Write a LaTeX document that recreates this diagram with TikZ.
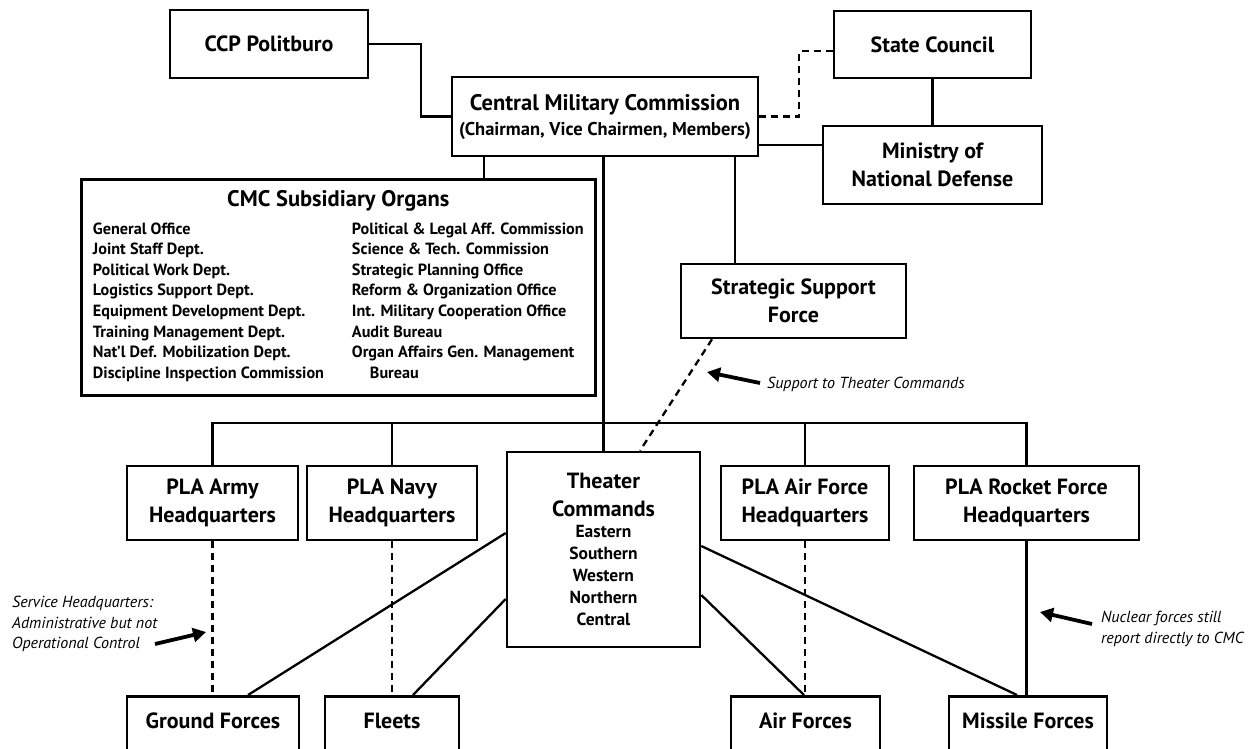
\documentclass[tikz,border=0pt]{standalone}
\usepackage{fontspec}
\setmainfont{PT Sans}
\usetikzlibrary{arrows.meta}
\tikzset{
  box/.style={draw, line width=2.6pt, inner sep=0pt, align=center,
    font=\bfseries\fontsize{22}{28}\selectfont},
  conn/.style={line width=2.3pt},
  dconn/.style={line width=2.3pt, dash pattern=on 7pt off 5pt},
  note/.style={font=\itshape\fontsize{16}{20.5}\selectfont, align=left, inner sep=0pt},
  callout/.style={line width=3.8pt, -{Triangle[length=13pt,width=14pt]}},
  lbl/.style={anchor=center, yshift=-26pt, inner sep=0pt, font=\bfseries\fontsize{22}{28}\selectfont},
}
\begin{document}
\begin{tikzpicture}[x=1pt,y=-1pt]
\useasboundingbox (0,0) rectangle (1249,748);
% top boxes
\node[box, minimum width=198pt, minimum height=68pt] (ccp) at (269,44) {CCP Politburo};
\node[box, minimum width=306pt, minimum height=79pt] (cmc) at (605,116.5)
  {\fontsize{22.5}{28}\selectfont Central Military Commission\\[-3pt]{\fontsize{18.5}{22}\selectfont (Chairman, Vice Chairmen, Members)}};
\node[box, minimum width=197pt, minimum height=67pt] (sc) at (932.5,44.5) {State Council};
\node[box, minimum width=219pt, minimum height=78pt] (mnd) at (932.5,165) {Ministry of\\National Defense};
% subsidiary organs
\node[box, anchor=north west, minimum width=514pt, minimum height=216pt,
  font=\bfseries\fontsize{16.2}{20.6}\selectfont] (sub) at (80,178)
  {\begin{tabular}{@{}p{259pt}@{}l@{}}
   \multicolumn{2}{c}{\fontsize{22.5}{24}\selectfont CMC Subsidiary Organs}\\[7.4pt]
   General Office & Political \& Legal Aff. Commission\\
   Joint Staff Dept. & Science \& Tech. Commission\\
   Political Work Dept. & Strategic Planning Office\\
   Logistics Support Dept. & Reform \& Organization Office\\
   Equipment Development Dept. & Int. Military Cooperation Office\\
   Training Management Dept. & Audit Bureau\\
   Nat'l Def. Mobilization Dept. & Organ Affairs Gen. Management\\
   Discipline Inspection Commission & \hspace{18pt}Bureau
   \end{tabular}};
\node[box, minimum width=225pt, minimum height=74pt] (ssf) at (793.5,301) {Strategic Support\\Force};
% theater
\node[box, minimum width=193pt, minimum height=195pt] (theater) at (603.5,549.5)
  {Theater\\Commands\\[-7pt]{\fontsize{17.5}{22}\selectfont Eastern}\\[-6pt]{\fontsize{17.5}{22}\selectfont Southern}\\[-6pt]{\fontsize{17.5}{22}\selectfont Western}\\[-6pt]{\fontsize{17.5}{22}\selectfont Northern}\\[-6pt]{\fontsize{17.5}{22}\selectfont Central}};
% service HQs
\node[box, minimum width=171pt, minimum height=74pt] (army) at (212.5,503) {PLA Army\\Headquarters};
\node[box, minimum width=170pt, minimum height=74pt] (navy) at (392,503) {PLA Navy\\Headquarters};
\node[box, minimum width=168pt, minimum height=74pt] (airhq) at (805,503) {PLA Air Force\\Headquarters};
\node[box, minimum width=225pt, minimum height=74pt] (rocket) at (1026.5,503) {PLA Rocket Force\\Headquarters};
% forces (cut at bottom)
\node[box, anchor=north, minimum width=172pt, minimum height=80pt, label={[lbl]north:Ground Forces}] (ground) at (213,695) {};
\node[box, anchor=north, minimum width=134pt, minimum height=80pt, label={[lbl]north:Fleets}] (fleets) at (392,695) {};
\node[box, anchor=north, minimum width=149pt, minimum height=80pt, label={[lbl]north:Air Forces}] (airf) at (805.5,695) {};
\node[box, anchor=north, minimum width=158pt, minimum height=80pt, label={[lbl]north:Missile Forces}] (missile) at (1028,695) {};
% connectors top
\draw[conn] (ccp.east) -- ++(52,0) |- (cmc.west);
\draw[dconn] (cmc.east) -- ++(40,0) |- ([yshift=-6.5pt]sc.west);
\draw[conn] (cmc.east |- 0,145) -- (mnd.west |- 0,145);
\draw[conn] (sc) -- (mnd);
\draw[conn] (cmc.south -| 484,0) -- (sub.north -| 484,0);
\draw[conn] (cmc.south -| theater.north) -- (theater.north);
\draw[conn] (cmc.south -| 735,0) -- (ssf.north -| 735,0);
\draw[dconn] (ssf.south -| 712,0) -- (theater.north -| 640,0);
% bus
\draw[conn] (army.north) -- (army.north |- 0,423) -| (rocket.north);
\draw[conn] (navy.north) -- (navy.north |- 0,423);
\draw[conn] (airhq.north) -- (airhq.north |- 0,423);
% HQ to forces
\draw[dconn] (army.south) -- (army.south |- ground.north);
\draw[dconn] (navy.south) -- (navy.south |- fleets.north);
\draw[dconn] (airhq.south) -- (airhq.south |- airf.north);
\draw[conn] (rocket.south) -- (rocket.south |- missile.north);
% theater to forces
\draw[conn] (theater.west |- 0,533) -- (ground.north -| 248,0);
\draw[conn] (theater.west |- 0,599) -- (fleets.north -| 413,0);
\draw[conn] (theater.east |- 0,595) -- (airf.north -| 804,0);
\draw[conn] (theater.east |- 0,546) -- (missile.north -| 1017,0);
% annotations
\node[note, anchor=west] (n1) at (767,384) {Support to Theater Commands};
\node[note, anchor=west] (n2) at (12,624) {Service Headquarters:\\Administrative but not\\Operational Control};
\node[note, anchor=west] (n3) at (1101,629) {Nuclear forces still\\report directly to CMC};
\coordinate (a1s) at (760,383); \coordinate (a1e) at (707,372);
\coordinate (a2s) at (155,644); \coordinate (a2e) at (206,632);
\coordinate (a3s) at (1092,624); \coordinate (a3e) at (1040,612);
\draw[callout] (a1s) -- (a1e);
\draw[callout] (a2s) -- (a2e);
\draw[callout] (a3s) -- (a3e);
\end{tikzpicture}
\end{document}
